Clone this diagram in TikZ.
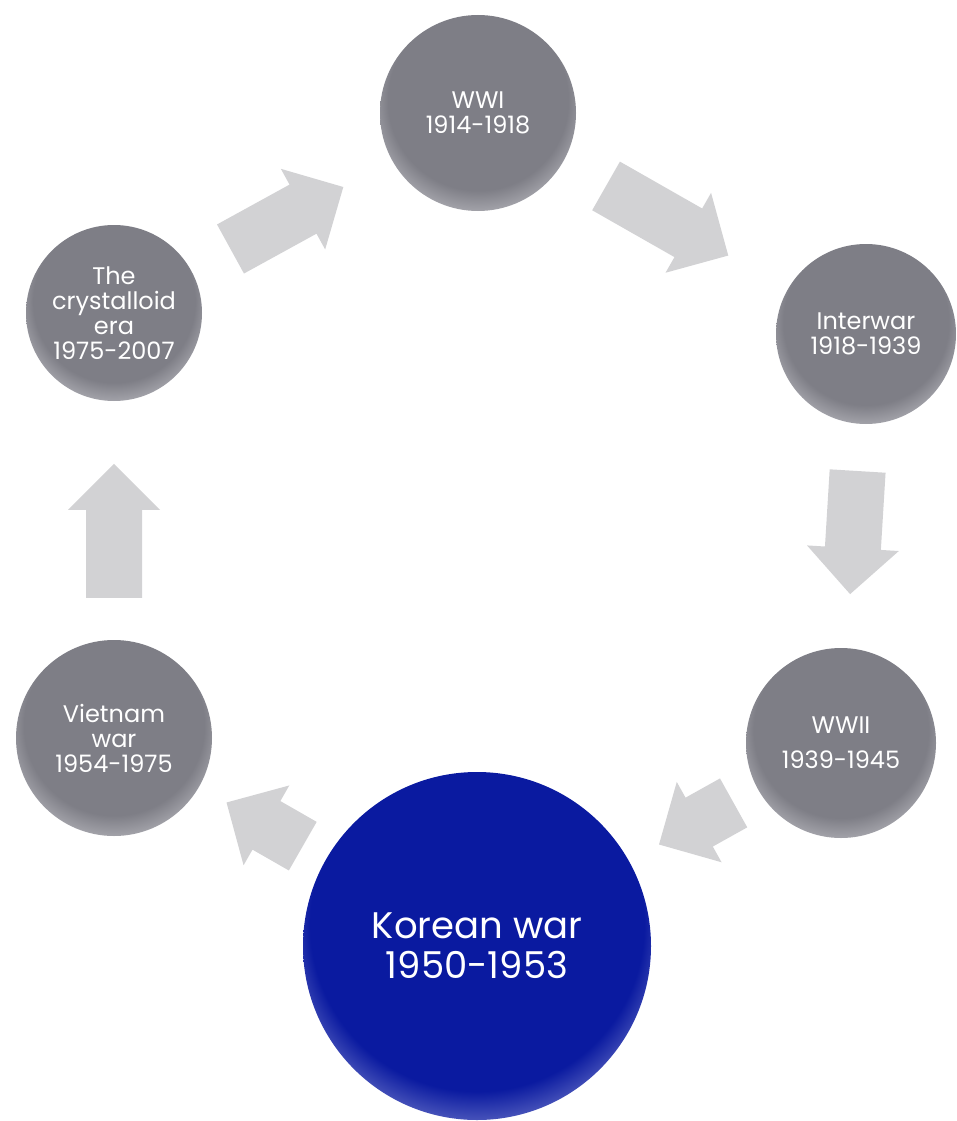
\documentclass[tikz,border=0pt]{standalone}
\usepackage{fontspec}
\setmainfont{Poppins}
\usetikzlibrary{calc}

\definecolor{eragray}{RGB}{126,126,134}
\definecolor{erarim}{RGB}{188,188,194}
\definecolor{koreablue}{RGB}{10,26,160}
\definecolor{korearim}{RGB}{125,133,208}
\definecolor{arrowgray}{RGB}{210,210,212}

\pgfdeclareradialshading{graysphere}{\pgfpoint{0bp}{6bp}}{color(0bp)=(eragray);color(23bp)=(eragray);color(31bp)=(erarim);color(50bp)=(erarim)}
\pgfdeclareradialshading{bluesphere}{\pgfpoint{0bp}{6bp}}{color(0bp)=(koreablue);color(24bp)=(koreablue);color(31bp)=(korearim);color(50bp)=(korearim)}

% block arrow along the line between two circles
\newcommand{\flowarrow}[4]{%
  \coordinate (tail) at ($(#1)!#3!(#2)$);
  \coordinate (tip) at ($(#1)!#4!(#2)$);
  \coordinate (neck) at ($(tip)!46pt!(tail)$);
  \fill[flow] ($(tail)!28pt!90:(tip)$) -- ($(neck)!28pt!-90:(tail)$)
    -- ($(neck)!46pt!-90:(tail)$) -- (tip) -- ($(neck)!46pt!90:(tail)$)
    -- ($(neck)!28pt!90:(tail)$) -- ($(tail)!28pt!-90:(tip)$) -- cycle;}

\begin{document}
\begin{tikzpicture}[x=1pt,y=-1pt,
    era/.style={circle, shading=graysphere, text=white, align=center, inner sep=0pt, font=\fontsize{24}{25}\selectfont},
    korea/.style={circle, shading=bluesphere, text=white, align=center, inner sep=0pt, font=\fontsize{37}{40}\selectfont},
    flow/.style={fill=arrowgray}]
    \useasboundingbox (0,0) rectangle (957,1121);
    \node[era, minimum size=196pt] (wwi) at (478,113) {WWI\\1914-1918};
    \node[era, minimum size=180pt] (interwar) at (866,334) {Interwar\\1918-1939};
    \node[era, minimum size=190pt] (wwii) at (841,743) {WWII\\[10pt]1939-1945};
    \node[korea, minimum size=348pt] (korea) at (477,946) {Korean war\\1950-1953};
    \node[era, minimum size=196pt] (vietnam) at (114,738) {Vietnam\\war\\1954-1975};
    \node[era, minimum size=176pt] (crystal) at (114,313) {The\\crystalloid\\era\\1975-2007};
    \flowarrow{crystal}{wwi}{0.32}{0.63}
    \flowarrow{wwi}{interwar}{0.33}{0.645}
    \flowarrow{interwar}{wwii}{0.335}{0.636}
    \flowarrow{wwii}{korea}{0.295}{0.5}
    \flowarrow{korea}{vietnam}{0.48}{0.69}
    \flowarrow{vietnam}{crystal}{0.33}{0.645}
\end{tikzpicture}
\end{document}
